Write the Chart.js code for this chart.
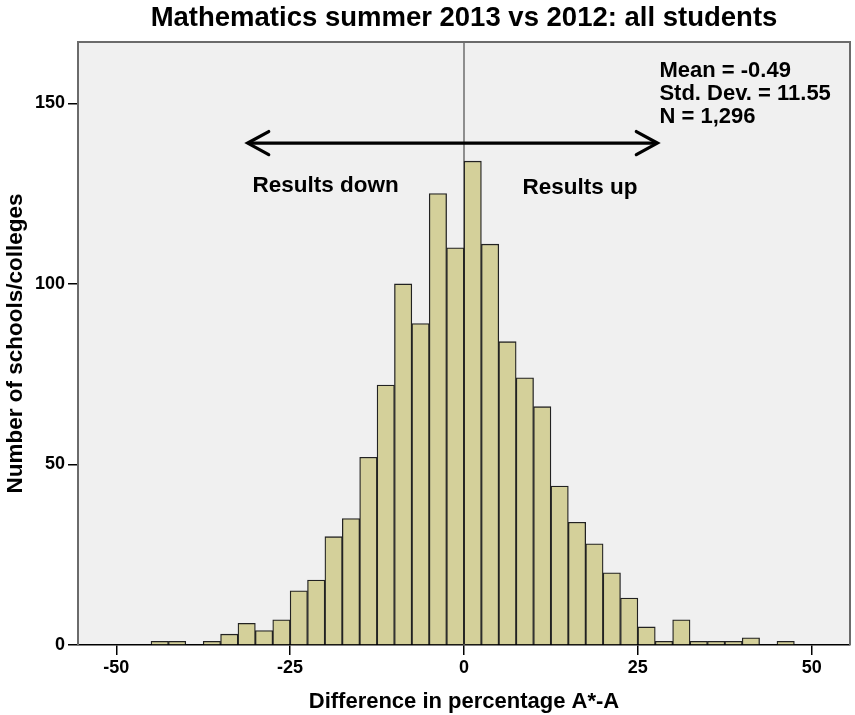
<!DOCTYPE html>
<html>
<head>
<meta charset="utf-8">
<script src="https://cdn.jsdelivr.net/npm/chart.js@4.4.1/dist/chart.umd.min.js"></script>
<style>
  html, body { margin: 0; padding: 0; background: #fff; }
  canvas { display: block; }
</style>
</head>
<body>
<canvas id="hist" width="855" height="715"></canvas>
<script>
// lower edge of each 2.5-wide bin, and how many schools fell in it
const binLow = [
  -45, -42.5, -40, -37.5, -35, -32.5, -30, -27.5, -25, -22.5,
  -20, -17.5, -15, -12.5, -10, -7.5, -5, -2.5, 0, 2.5,
  5, 7.5, 10, 12.5, 15, 17.5, 20, 22.5, 25, 27.5,
  30, 32.5, 35, 37.5, 40, 42.5, 45
]
const counts = [
  1, 1, 0, 1, 3, 6, 4, 7, 15, 18,
  30, 35, 52, 72, 100, 89, 125, 110, 134, 111,
  84, 74, 66, 44, 34, 28, 20, 13, 5, 1,
  7, 1, 1, 1, 2, 0, 1
]
const binWidth = 2.5
const xTicks = [-50, -25, 0, 25, 50]
const yTicks = [0, 50, 100, 150]

const titleText = 'Mathematics summer 2013 vs 2012: all students'
const statsLines = ['Mean = -0.49', 'Std. Dev. = 11.55', 'N = 1,296']

const FONT = "'Liberation Sans', Arial, sans-serif"

const points = binLow.map((lo, i) => ({ x: lo + binWidth / 2, y: counts[i] }))

// background, zero line, frame, arrow and the text notes
const decor = {
  id: 'decor',
  beforeDraw(chart) {
    const { ctx, chartArea: a } = chart
    ctx.save()
    ctx.fillStyle = '#f0f0f0'
    ctx.fillRect(a.left, a.top, a.right - a.left, a.bottom - a.top)
    ctx.restore()
  },
  beforeDatasetsDraw(chart) {
    const { ctx, chartArea: a, scales: { x } } = chart
    const zx = x.getPixelForValue(0)
    ctx.save()
    ctx.strokeStyle = '#6e6e6e'
    ctx.lineWidth = 1.5
    ctx.beginPath()
    ctx.moveTo(zx, a.top)
    ctx.lineTo(zx, a.bottom)
    ctx.stroke()
    ctx.restore()
  },
  afterDatasetsDraw(chart) {
    const { ctx, chartArea: a, scales: { x, y } } = chart
    ctx.save()

    // frame on top / right / left
    ctx.strokeStyle = '#6b6b6b'
    ctx.lineWidth = 2
    ctx.beginPath()
    ctx.moveTo(a.left, a.bottom)
    ctx.lineTo(a.left, a.top)
    ctx.lineTo(a.right, a.top)
    ctx.lineTo(a.right, a.bottom)
    ctx.stroke()

    // double headed arrow
    const ax1 = x.getPixelForValue(-31.1)
    const ax2 = x.getPixelForValue(27.8)
    const ay = y.getPixelForValue(139)
    ctx.strokeStyle = '#000'
    ctx.lineWidth = 3.3
    ctx.lineCap = 'round'
    ctx.lineJoin = 'miter'
    ctx.beginPath()
    ctx.moveTo(ax1 + 2, ay)
    ctx.lineTo(ax2 - 2, ay)
    ctx.stroke()
    ctx.beginPath()
    ctx.moveTo(ax1 + 21, ay - 11.5)
    ctx.lineTo(ax1, ay)
    ctx.lineTo(ax1 + 21, ay + 11.5)
    ctx.moveTo(ax2 - 21, ay - 11.5)
    ctx.lineTo(ax2, ay)
    ctx.lineTo(ax2 - 21, ay + 11.5)
    ctx.stroke()

    ctx.fillStyle = '#000'
    ctx.textBaseline = 'alphabetic'
    ctx.textAlign = 'left'
    ctx.font = 'bold 22.5px ' + FONT
    ctx.fillText('Results down', x.getPixelForValue(-30.4), y.getPixelForValue(125.5))
    ctx.fillText('Results up', x.getPixelForValue(8.4), y.getPixelForValue(124.8))

    ctx.font = 'bold 22px ' + FONT
    const sx = x.getPixelForValue(28.1)
    const sy = y.getPixelForValue(157.2)
    statsLines.forEach((t, i) => ctx.fillText(t, sx, sy + i * 22.6))

    // chart title, centred over the plot
    ctx.textAlign = 'center'
    ctx.font = 'bold 27.5px ' + FONT
    ctx.fillText(titleText, (a.left + a.right) / 2, 26)

    ctx.restore()
  }
}

new Chart(document.getElementById('hist').getContext('2d'), {
  type: 'bar',
  data: {
    datasets: [{
      data: points,
      backgroundColor: '#d4d09a',
      borderColor: '#222',
      borderWidth: 1.3,
      barPercentage: 1,
      categoryPercentage: 1
    }]
  },
  options: {
    responsive: false,
    animation: false,
    layout: { padding: { top: 42, right: 5, left: 0, bottom: 0 } },
    plugins: {
      legend: { display: false },
      tooltip: { enabled: false },
      title: { display: false }
    },
    scales: {
      x: {
        type: 'linear',
        min: -55.5,
        max: 55.5,
        offset: false,
        afterBuildTicks: s => { s.ticks = xTicks.map(v => ({ value: v })) },
        afterFit: s => { s.height = 70 },
        grid: { offset: false, drawOnChartArea: false, drawTicks: true, tickLength: 10, color: '#000', lineWidth: 1.5 },
        border: { display: true, color: '#000', width: 1.5 },
        ticks: { color: '#000', padding: 2, maxRotation: 0, font: { family: FONT, size: 18, weight: 'bold' } },
        title: {
          display: true,
          text: 'Difference in percentage A*-A',
          color: '#000',
          padding: { top: 0, bottom: 0 },
          font: { family: FONT, size: 22, weight: 'bold' }
        }
      },
      y: {
        min: 0,
        max: 167,
        afterBuildTicks: s => { s.ticks = yTicks.map(v => ({ value: v })) },
        afterFit: s => { s.width = 78 },
        grid: { drawOnChartArea: false, drawTicks: true, tickLength: 10, color: '#000', lineWidth: 1.5 },
        border: { display: true, color: '#6b6b6b', width: 2 },
        ticks: { color: '#000', padding: 3, font: { family: FONT, size: 18, weight: 'bold' } },
        title: {
          display: true,
          text: 'Number of schools/colleges',
          color: '#000',
          padding: { top: 2, bottom: 0 },
          font: { family: FONT, size: 22.5, weight: 'bold' }
        }
      }
    }
  },
  plugins: [decor]
})
</script>
</body>
</html>
